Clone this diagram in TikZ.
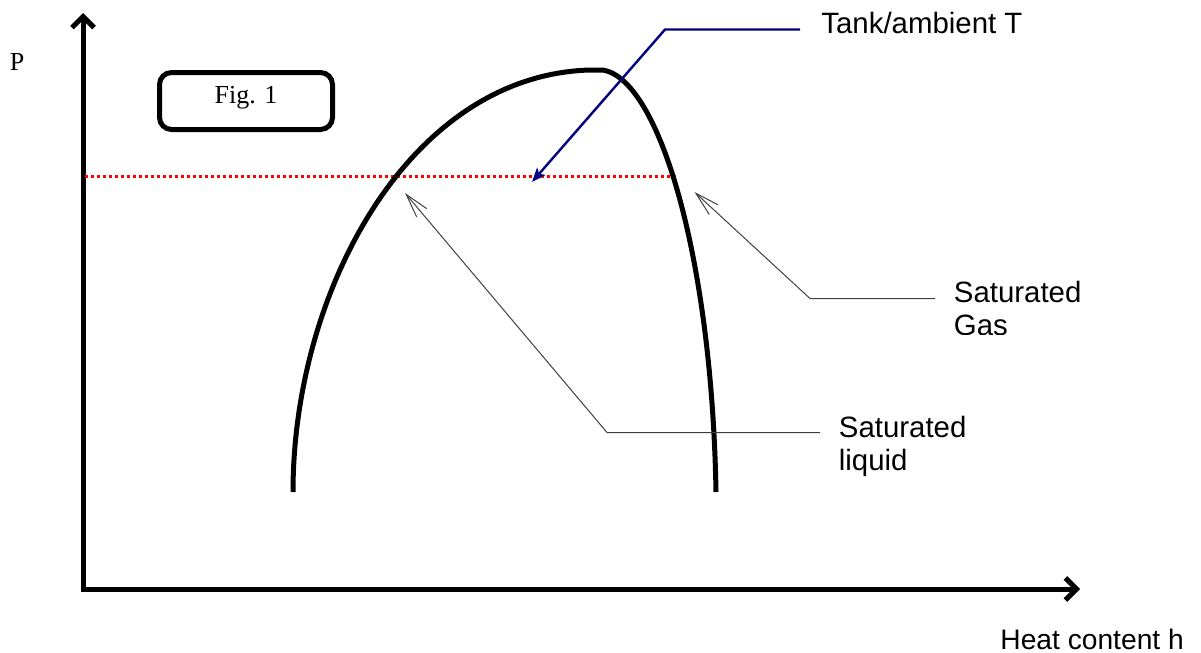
\documentclass[tikz,border=0pt]{standalone}
\usepackage{fontspec}
\setmainfont{Liberation Serif}
\newfontfamily\arialf{Liberation Sans}
\usetikzlibrary{arrows.meta}
\definecolor{navyc}{HTML}{000080}
\begin{document}
\begin{tikzpicture}[x=0.5pt,y=-0.5pt,
  axis/.style={line width=2.5pt, line join=miter,
    {Straight Barb[length=5.5pt,width=11pt]}-{Straight Barb[length=5.5pt,width=11pt]}},
  dome/.style={line width=2.5pt, line cap=butt},
  figbox/.style={draw, line width=2.5pt, rounded corners=6pt, minimum width=86.5pt,
    minimum height=28.5pt, font=\fontsize{13}{15}\selectfont, text height=9pt,
    text depth=7pt, inner sep=0pt},
  serifl/.style={font=\fontsize{13}{15}\selectfont, inner sep=0pt},
  tankline/.style={draw=navyc, line width=1.2pt, -{Stealth[length=7pt,width=5.5pt,inset=1.5pt]}},
  leader/.style={draw=black!75, line width=0.5pt, -{Straight Barb[length=12pt,width=6.5pt]}},
  sanslabel/.style={font=\arialf\fontsize{14.7}{16.5}\selectfont, inner sep=0pt, align=left},
  isotherm/.style={draw=red, line width=1.5pt, dash pattern=on 1.5pt off 1.5pt}]
\useasboundingbox (0,0) rectangle (1201,653);

% axes
\coordinate (O) at (83,589);
\coordinate (ytip) at (83,13);
\coordinate (xtip) at (1080,589);
\draw[axis] (ytip) -- (O) -- (xtip);

% labels of axes
\node[serifl, anchor=base west] (P) at (9.5,70) {P};
\node[sanslabel, font=\arialf\fontsize{14.1}{16.5}\selectfont, anchor=base west] (heat) at (1000,649) {Heat content h};

% figure box
\node[figbox] (fig) at (246,101) {Fig. 1};

% isotherm
\coordinate (isoL) at (85,176);
\coordinate (isoR) at (677,176);
\draw[isotherm] (isoL) -- (isoR);

% saturation dome
\draw[dome] (293,492) .. controls (293,290) and (410,75) .. (590,70)
  -- (603,70) .. controls (660,80) and (712,260) .. (716,492);

% Tank / ambient T
\node[sanslabel, anchor=base west] (tank) at (821,33) {Tank/ambient T};
\coordinate (tankA) at (800,29.5);
\coordinate (tankB) at (665,29.5);
\coordinate (tankTip) at (532,182);
\draw[tankline] (tankA) -- (tankB) -- (tankTip);

% Saturated gas
\begin{scope}
  \clip (900,250) rectangle (1201,334.5);
  \node[sanslabel, anchor=north west] (gas) at (953.5,280.5) {Saturated\\Gas};
\end{scope}
\coordinate (gasA) at (935,298.5);
\coordinate (gasB) at (810,298.5);
\coordinate (gasTip) at (694.5,192);
\draw[leader] (gasA) -- (gasB) -- (gasTip);

% Saturated liquid
\node[sanslabel, anchor=north west] (liq) at (838.5,415.5) {Saturated\\liquid};
\coordinate (liqA) at (820,432.5);
\coordinate (liqB) at (607,432.5);
\coordinate (liqTip) at (405,193);
\draw[leader] (liqA) -- (liqB) -- (liqTip);
\end{tikzpicture}
\end{document}
